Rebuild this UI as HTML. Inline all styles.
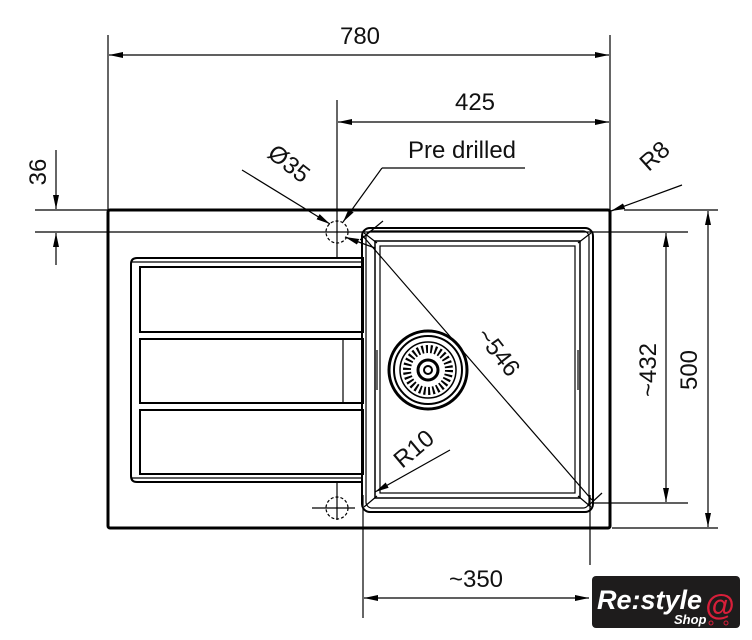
<!DOCTYPE html>
<html><head><meta charset="utf-8"><style>
html,body{margin:0;padding:0;background:#fff;width:752px;height:640px;overflow:hidden}
svg{display:block}
text{font-family:"Liberation Sans",sans-serif;fill:#111}
</style></head><body>
<svg width="752" height="640" viewBox="0 0 752 640" xmlns="http://www.w3.org/2000/svg">
<defs>
<marker id="a" markerWidth="14" markerHeight="8" refX="14" refY="4" orient="auto" markerUnits="userSpaceOnUse"><path d="M0,1 L14,4 L0,7 Z" fill="#000"/></marker>
<marker id="s" markerWidth="14" markerHeight="8" refX="0" refY="4" orient="auto" markerUnits="userSpaceOnUse"><path d="M14,1 L0,4 L14,7 Z" fill="#000"/></marker>
</defs>
<g stroke="#000" fill="none" stroke-width="1.2">
<!-- extension lines -->
<line x1="108" y1="35" x2="108" y2="210"/>
<line x1="610" y1="35" x2="610" y2="210"/>
<line x1="337" y1="100" x2="337" y2="258"/>
<line x1="337" y1="482" x2="337" y2="520"/>
<line x1="35" y1="210" x2="110" y2="210"/>
<line x1="35" y1="232" x2="688" y2="232"/>
<line x1="624" y1="210" x2="718" y2="210"/>
<line x1="612" y1="528" x2="718" y2="528"/>
<line x1="593" y1="503" x2="688" y2="503"/>
<line x1="363" y1="495" x2="363" y2="618"/>
<line x1="590" y1="495" x2="590" y2="565"/>
<line x1="312" y1="508" x2="355" y2="508"/>
<!-- dims -->
<line x1="109" y1="55" x2="609" y2="55" marker-start="url(#s)" marker-end="url(#a)"/>
<line x1="338" y1="122" x2="609" y2="122" marker-start="url(#s)" marker-end="url(#a)"/>
<line x1="56" y1="150" x2="56" y2="209" marker-end="url(#a)"/>
<line x1="56" y1="265" x2="56" y2="233" marker-end="url(#a)"/>
<line x1="666" y1="233" x2="666" y2="502" marker-start="url(#s)" marker-end="url(#a)"/>
<line x1="708" y1="211" x2="708" y2="527" marker-start="url(#s)" marker-end="url(#a)"/>
<line x1="364" y1="598" x2="589" y2="598" marker-start="url(#s)" marker-end="url(#a)"/>
<!-- leaders -->
<line x1="242" y1="170" x2="330" y2="224" marker-end="url(#a)"/>
<line x1="525" y1="168" x2="382" y2="168"/>
<line x1="382" y1="168" x2="343" y2="222" marker-end="url(#a)"/>
<line x1="682" y1="185" x2="611" y2="211" marker-end="url(#a)"/>
<line x1="450" y1="450" x2="375" y2="492" marker-end="url(#a)"/>
<line x1="375" y1="248" x2="345" y2="237" marker-end="url(#a)"/>
<line x1="383" y1="221" x2="360" y2="240"/>
<line x1="362" y1="235" x2="592" y2="500"/>
<line x1="602" y1="493" x2="588" y2="506"/>
<!-- sink outer -->
<rect x="108" y="210" width="502" height="318" rx="2" stroke-width="3"/>
<!-- holes -->
<circle cx="337" cy="232" r="11" stroke-dasharray="3,2"/>
<circle cx="337" cy="508" r="11" stroke-dasharray="3,2"/>
<!-- drainboard -->
<path d="M363,305 L363,258 L137,258 Q131,258 131,264 L131,476 Q131,482 137,482 L363,482" stroke-width="2"/>
<line x1="131" y1="262" x2="363" y2="262"/>
<line x1="131" y1="478" x2="363" y2="478"/>
<rect x="140" y="267" width="223" height="65" stroke-width="2"/>
<rect x="140" y="339" width="223" height="64" stroke-width="2"/>
<line x1="343" y1="339" x2="343" y2="403"/>
<rect x="140" y="410" width="223" height="64" stroke-width="2"/>
<!-- bowl -->
<rect x="362" y="228" width="231" height="284" rx="8" stroke-width="2"/>
<rect x="366" y="231" width="223" height="277" rx="6"/>
<rect x="375" y="241" width="205" height="257" stroke-width="1.5"/>
<rect x="380" y="246" width="195" height="247"/>
<line x1="364" y1="233" x2="377" y2="243"/><line x1="591" y1="233" x2="578" y2="243"/>
<line x1="364" y1="507" x2="377" y2="496"/><line x1="591" y1="507" x2="578" y2="496"/>
<line x1="377" y1="350" x2="377" y2="390"/><line x1="578" y1="350" x2="578" y2="390"/>
<!-- drain -->
<circle cx="428" cy="370" r="39" stroke-width="3"/>
<circle cx="428" cy="370" r="34" stroke-width="2"/>
<circle cx="428" cy="370" r="28" stroke-width="1.5"/>
<circle cx="428" cy="370" r="21" stroke-width="8" stroke-dasharray="2,2.4"/>
<circle cx="428" cy="370" r="10" stroke-width="3"/>
<circle cx="428" cy="370" r="4" stroke-width="2"/>
</g>
<text x="360" y="44" font-size="24" text-anchor="middle">780</text>
<text x="475" y="110" font-size="24" text-anchor="middle">425</text>
<text x="462" y="158" font-size="24" text-anchor="middle">Pre drilled</text>
<text transform="translate(46,172) rotate(-90)" font-size="24" text-anchor="middle">36</text>
<text transform="translate(284,170) rotate(38)" font-size="24" text-anchor="middle">Ø35</text>
<text transform="translate(660,162) rotate(-42)" font-size="24" text-anchor="middle">R8</text>
<text transform="translate(492,357) rotate(52)" font-size="24" text-anchor="middle">~546</text>
<text transform="translate(419,455) rotate(-40)" font-size="24" text-anchor="middle">R10</text>
<text transform="translate(656,370) rotate(-90)" font-size="24" text-anchor="middle">~432</text>
<text transform="translate(697,370) rotate(-90)" font-size="24" text-anchor="middle">500</text>
<text x="476" y="587" font-size="24" text-anchor="middle">~350</text>
<!-- logo -->
<rect x="592" y="576" width="148" height="52" rx="4" fill="#1e1c1c"/>
<text x="597" y="609" font-size="27" font-style="italic" font-weight="bold" style="fill:#fff">Re:style</text>
<text x="674" y="624" font-size="13" font-weight="bold" font-style="italic" style="fill:#fff">Shop</text>
<text x="720" y="615" font-size="30" font-weight="bold" text-anchor="middle" style="fill:#d81f3a">@</text>
<circle cx="711" cy="623" r="2" fill="none" stroke="#d81f3a"/>
<circle cx="726" cy="623" r="2" fill="none" stroke="#d81f3a"/>
</svg>
</body></html>
